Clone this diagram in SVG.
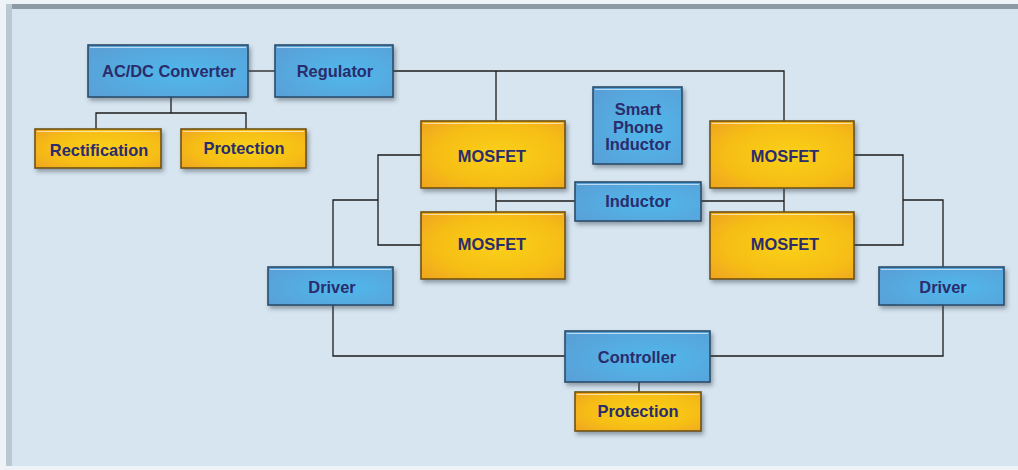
<svg xmlns="http://www.w3.org/2000/svg" width="1018" height="470" viewBox="0 0 1018 470">
<defs>
<radialGradient id="gb" cx="0.6" cy="0.55" r="0.75">
<stop offset="0" stop-color="#4fb8ec"/>
<stop offset="1" stop-color="#5a9fd6"/>
</radialGradient>
<radialGradient id="go" cx="0.55" cy="0.5" r="0.75">
<stop offset="0" stop-color="#fad11a"/>
<stop offset="0.6" stop-color="#f6bd18"/>
<stop offset="1" stop-color="#eea21e"/>
</radialGradient>
<filter id="sh" x="-10%" y="-20%" width="125%" height="150%">
<feDropShadow dx="2" dy="3" stdDeviation="2" flood-color="#30404c" flood-opacity="0.45"/>
</filter>
</defs>
<style>
.blue{fill:url(#gb);stroke:#2a4d6c;stroke-width:1.6;filter:url(#sh)}
.orange{fill:url(#go);stroke:#6e5312;stroke-width:1.6;filter:url(#sh)}
.hl{fill:none;stroke:#ffffff;stroke-opacity:0.6;stroke-width:1.2}
.lbl{font-family:"Liberation Sans",Arial,sans-serif;font-weight:bold;font-size:16.4px;fill:#2a2c6c;text-anchor:middle;dominant-baseline:central}
.wire{fill:none;stroke:#1c1c1c;stroke-width:1.3}
</style>
<rect x="0" y="0" width="1018" height="470" fill="#eef3f8"/>
<rect x="6" y="4" width="1012" height="462" fill="#d7e5f0"/>
<rect x="6" y="4" width="1012" height="5" fill="#8d9aa3"/>
<rect x="6" y="4" width="6" height="462" fill="#b9c9d1"/>

<g id="connectors">
<path class="wire" d="M248 71H275"/>
<path class="wire" d="M393 71H784V121M496 71V121"/>
<path class="wire" d="M171 97V113M96 129V113H246V129"/>
<path class="wire" d="M496 188V212M784 188V212M496 201H575M701 201H784"/>
<path class="wire" d="M421 155H378V245H421M378 200H333V267"/>
<path class="wire" d="M854 155H903V245H854M903 200H943V267"/>
<path class="wire" d="M333 305V356H565M710 356H943V305"/>
<path class="wire" d="M639 382V392"/>
</g>

<g id="acdc"><rect class="blue" x="88" y="45" width="160" height="52"/><path class="hl" d="M90 47.5H246"/><text class="lbl" x="169" y="71">AC/DC Converter</text></g>
<g id="regulator"><rect class="blue" x="275" y="45" width="118" height="52"/><path class="hl" d="M277 47.5H391"/><text class="lbl" x="335" y="71">Regulator</text></g>
<g id="rectification"><rect class="orange" x="35" y="129" width="126" height="39"/><path class="hl" d="M37 131.5H159"/><text class="lbl" x="99" y="150">Rectification</text></g>
<g id="protection1"><rect class="orange" x="181" y="129" width="125" height="39"/><path class="hl" d="M183 131.5H304"/><text class="lbl" x="244" y="148">Protection</text></g>
<g id="smartphone"><rect class="blue" x="593" y="87" width="89" height="77"/><path class="hl" d="M595 89.5H680"/><text class="lbl" x="638" y="109">Smart</text><text class="lbl" x="638" y="127">Phone</text><text class="lbl" x="638" y="144">Inductor</text></g>
<g id="mosfet-tl"><rect class="orange" x="421" y="121" width="144" height="67"/><path class="hl" d="M423 123.5H563"/><text class="lbl" x="492" y="156">MOSFET</text></g>
<g id="mosfet-bl"><rect class="orange" x="421" y="212" width="144" height="67"/><path class="hl" d="M423 214.5H563"/><text class="lbl" x="492" y="244">MOSFET</text></g>
<g id="mosfet-tr"><rect class="orange" x="710" y="121" width="144" height="67"/><path class="hl" d="M712 123.5H852"/><text class="lbl" x="785" y="156">MOSFET</text></g>
<g id="mosfet-br"><rect class="orange" x="710" y="212" width="144" height="67"/><path class="hl" d="M712 214.5H852"/><text class="lbl" x="785" y="244">MOSFET</text></g>
<g id="inductor"><rect class="blue" x="575" y="182" width="126" height="39"/><path class="hl" d="M577 184.5H699"/><text class="lbl" x="638" y="201">Inductor</text></g>
<g id="driver-l"><rect class="blue" x="268" y="267" width="125" height="38"/><path class="hl" d="M270 269.5H391"/><text class="lbl" x="332" y="287">Driver</text></g>
<g id="driver-r"><rect class="blue" x="879" y="267" width="125" height="38"/><path class="hl" d="M881 269.5H1002"/><text class="lbl" x="943" y="287">Driver</text></g>
<g id="controller"><rect class="blue" x="565" y="331" width="145" height="51"/><path class="hl" d="M567 333.5H708"/><text class="lbl" x="637" y="357">Controller</text></g>
<g id="protection2"><rect class="orange" x="575" y="392" width="126" height="39"/><path class="hl" d="M577 394.5H699"/><text class="lbl" x="638" y="411">Protection</text></g>
</svg>
